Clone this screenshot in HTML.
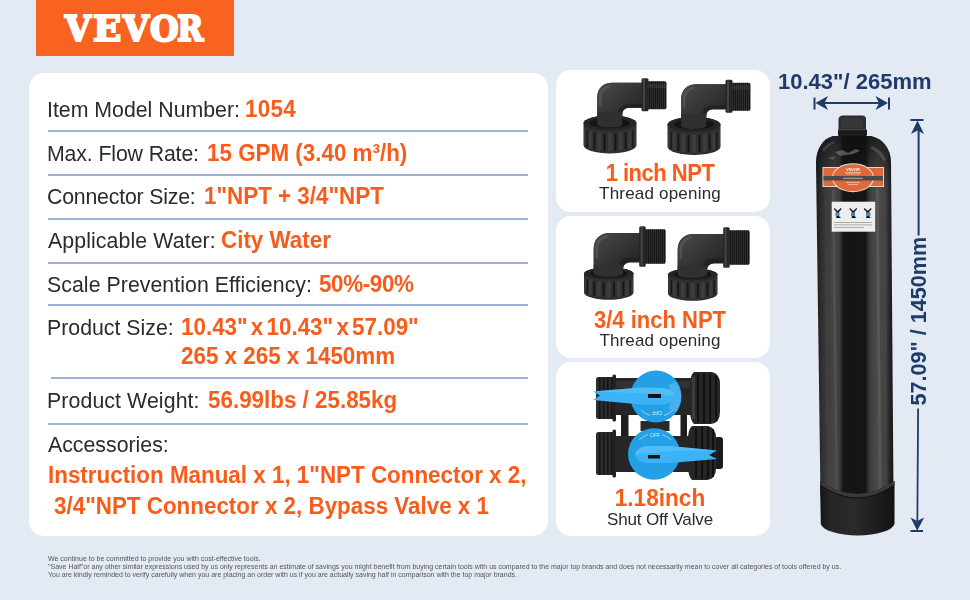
<!DOCTYPE html>
<html><head><meta charset="utf-8"><title>VEVOR Water Softener Tank</title>
<style>
*{margin:0;padding:0;box-sizing:border-box}
html,body{width:970px;height:600px;overflow:hidden}
body{background:#e3eaf3;font-family:"Liberation Sans",Arial,sans-serif;position:relative;color:#2b2b2b}
.lbl,.val,.ct,.dim,.foot{will-change:transform}
#logo{position:absolute;left:36px;top:0;width:198px;height:56px;background:#f8631f}
#logo span{position:absolute;top:10px;transform-origin:0 0;font-family:"DejaVu Serif",serif;font-weight:bold;font-size:36px;line-height:1;color:#fff;letter-spacing:-1px;-webkit-text-stroke:2.2px #fff}
.card{position:absolute;background:#fff;border-radius:15px}
.sep{position:absolute;height:2px;background:#9db2d5}
.lbl{position:absolute;white-space:nowrap;line-height:1;font-size:21.3px;color:#2b2b2b;transform:scaleY(1.04);transform-origin:0 17px}
.val{position:absolute;white-space:nowrap;line-height:1;font-size:22.4px;font-weight:bold;color:#f85c1a;transform:scaleY(1.1);transform-origin:0 18px}
.ct{position:absolute;white-space:nowrap;line-height:1;text-align:center;width:214px;left:553px}
.ct.o{font-size:22px;font-weight:bold;color:#f85c1a;transform:scaleY(1.06);transform-origin:0 18px}
.ct.d{font-size:17px;color:#2b2b2b}
.dim{position:absolute;white-space:nowrap;line-height:1;font-size:22px;font-weight:bold;color:#1f3b69}
.foot{position:absolute;left:48px;white-space:nowrap;line-height:1;font-size:7px;color:#555}
svg{position:absolute;overflow:visible}
</style></head><body>
<div id="logo"><span style="left:29px;transform:scaleX(0.93)">V</span><span style="left:57px;transform:scaleX(1.03)">E</span><span style="left:87px;transform:scaleX(0.93)">V</span><span style="left:114px;transform:scaleX(0.915)">O</span><span style="left:141px;transform:scaleX(0.88)">R</span></div>
<div class="card" style="left:29px;top:73px;width:519px;height:463px"></div>
<div class="lbl" style="left:47px;top:100px;">Item Model Number:</div>
<div class="val" style="left:245px;top:99px;letter-spacing:.3px">1054</div>
<div class="sep" style="left:48px;top:130px;width:480px"></div>
<div class="lbl" style="left:47px;top:144px;letter-spacing:-.13px">Max. Flow Rate:</div>
<div class="val" style="left:207px;top:143px;">15 GPM (3.40 m³/h)</div>
<div class="sep" style="left:48px;top:174px;width:480px"></div>
<div class="lbl" style="left:47px;top:187px;letter-spacing:-.2px">Connector Size:</div>
<div class="val" style="left:204px;top:186px;">1"NPT + 3/4"NPT</div>
<div class="sep" style="left:48px;top:218px;width:480px"></div>
<div class="lbl" style="left:48px;top:231px;letter-spacing:.1px">Applicable Water:</div>
<div class="val" style="left:221px;top:230px;">City Water</div>
<div class="sep" style="left:48px;top:262px;width:480px"></div>
<div class="lbl" style="left:47px;top:275px;letter-spacing:.05px">Scale Prevention Efficiency:</div>
<div class="val" style="left:318.5px;top:274px;letter-spacing:-.35px">50%-90%</div>
<div class="sep" style="left:48px;top:304px;width:480px"></div>
<div class="lbl" style="left:47px;top:318px;">Product Size:</div>
<div class="val" style="left:181px;top:317px;word-spacing:-3px">10.43" x 10.43" x 57.09"</div>
<div class="val" style="left:181px;top:346px;">265 x 265 x 1450mm</div>
<div class="sep" style="left:51px;top:377px;width:477px"></div>
<div class="lbl" style="left:47px;top:391px;letter-spacing:.1px">Product Weight:</div>
<div class="val" style="left:208px;top:390px;">56.99lbs / 25.85kg</div>
<div class="sep" style="left:48px;top:423px;width:480px"></div>
<div class="lbl" style="left:48px;top:435px;">Accessories:</div>
<div class="val" style="left:48px;top:465px;">Instruction Manual x 1, 1"NPT Connector x 2,</div>
<div class="val" style="left:54px;top:496px;">3/4"NPT Connector x 2, Bypass Valve x 1</div>
<div class="card" style="left:556px;top:70px;width:214px;height:142px"></div>
<div class="card" style="left:556px;top:216px;width:214px;height:142px"></div>
<div class="card" style="left:556px;top:362px;width:214px;height:174px"></div>
<div class="ct o" style="top:162.5px;letter-spacing:-.5px">1 inch NPT</div>
<div class="ct d" style="top:185px;letter-spacing:.2px">Thread opening</div>
<div class="ct o" style="top:309.5px">3/4 inch NPT</div>
<div class="ct d" style="top:332px;letter-spacing:.15px">Thread opening</div>
<div class="ct o" style="top:488px;font-size:22.6px;transform:scaleY(1.08);transform-origin:0 18px">1.18inch</div>
<div class="ct d" style="top:511px;letter-spacing:-.15px">Shut Off Valve</div>
<div class="dim" style="left:778px;top:70.5px">10.43"/ 265mm</div>
<svg width="970" height="600" viewBox="0 0 970 600" style="left:0;top:0"><defs>
<linearGradient id="tb" x1="0" x2="1" y1="0" y2="0">
<stop offset="0" stop-color="#1a1a1a"/>
<stop offset=".05" stop-color="#2a2a2a"/>
<stop offset=".13" stop-color="#3a3a3a"/>
<stop offset=".24" stop-color="#474747"/>
<stop offset=".31" stop-color="#3c3c3c"/>
<stop offset=".335" stop-color="#1e1e1e"/>
<stop offset=".36" stop-color="#161616"/>
<stop offset=".5" stop-color="#141414"/>
<stop offset=".64" stop-color="#171717"/>
<stop offset=".665" stop-color="#2a2a2a"/>
<stop offset=".70" stop-color="#3e3e3e"/>
<stop offset=".80" stop-color="#4c4c4c"/>
<stop offset=".9" stop-color="#404040"/>
<stop offset=".955" stop-color="#242424"/>
<stop offset="1" stop-color="#151515"/>
</linearGradient>
<pattern id="tex" width="6" height="3" patternUnits="userSpaceOnUse"><rect width="6" height="1" fill="#000" opacity=".25"/></pattern>
<linearGradient id="tbase" x1="0" x2="1" y1="0" y2="0">
<stop offset="0" stop-color="#151515"/>
<stop offset=".15" stop-color="#262626"/>
<stop offset=".45" stop-color="#2a2a2a"/>
<stop offset=".75" stop-color="#1e1e1e"/>
<stop offset="1" stop-color="#121212"/>
</linearGradient>
<linearGradient id="tsh" x1="0" x2="0" y1="0" y2="1">
<stop offset="0" stop-color="#0e0e0e" stop-opacity=".7"/>
<stop offset=".6" stop-color="#111" stop-opacity=".3"/>
<stop offset="1" stop-color="#111" stop-opacity="0"/>
</linearGradient>
</defs>
<g id="tank">
<!-- body -->
<path d="M833,136 C823,139 816.5,148 816,162 L820.5,497 L893.5,497 L891,162 C890.5,148 883,139 871,136 Z" fill="url(#tb)"/>
<path d="M833,136 C823,139 816.5,148 816,162 L816.3,185 L891.2,185 L891,162 C890.5,148 883,139 871,136 Z" fill="url(#tsh)"/>
<path d="M835,152 L842,150 L848,153 L856,149 L860,151 L853,154 L846,155 L840,156 Z" fill="#8a8a8a" opacity=".55"/>
<path d="M828,158 L836,156 L833,160 Z" fill="#777" opacity=".5"/>
<path d="M872,146 Q882,150 886,160 L883,161 Q879,152 870,148 Z" fill="#6a6a6a" opacity=".5"/>
<path d="M822,150 Q826,144 834,141 L835,143 Q828,146 824,152 Z" fill="#5a5a5a" opacity=".5"/>
<g opacity=".2">
<path d="M832,190 L836,490 L838,490 L834,190 Z" fill="#8a8a8a"/>
<path d="M876,190 L879,490 L881.5,490 L878.5,190 Z" fill="#909090"/>
<path d="M825,190 L828,490 L829,490 L826,190 Z" fill="#6a6a6a"/>
<path d="M884,190 L886,490 L887,490 L885,190 Z" fill="#6a6a6a"/>
</g>
<!-- neck -->
<path d="M838.5,136 L838.5,119 Q839,115.5 843,115.5 L862,115.5 Q866,115.5 866,119 L866,136 Z" fill="#2e2e2e"/>
<rect x="841" y="118" width="22" height="10" fill="#3c3c3c" opacity=".6"/>
<rect x="838" y="129" width="29" height="7" rx="1.5" fill="#1a1a1a"/>
<rect x="839" y="129" width="27" height="1.2" fill="#444"/>
<!-- label -->
<rect x="822.5" y="167" width="61.5" height="20" fill="#d9d9d9"/>
<rect x="823.5" y="168" width="59.5" height="18" fill="#e2683a"/>
<ellipse cx="853" cy="177.7" rx="21" ry="14.5" fill="#e0e0e0"/>
<ellipse cx="853" cy="177.7" rx="20" ry="13.5" fill="#e2683a"/>
<rect x="823.5" y="176" width="59.5" height="4.5" fill="#4a4a4a"/>
<text x="853" y="170.5" font-family="Liberation Sans" font-weight="bold" font-size="4" fill="#fff" text-anchor="middle">VEVOR</text>
<rect x="845" y="172" width="16" height="0.8" fill="#f4c0a8"/>
<rect x="846" y="173.5" width="14" height="0.8" fill="#f4c0a8"/>
<rect x="843" y="177.8" width="20" height="0.9" fill="#bbb"/>
<rect x="846" y="182" width="14" height="0.8" fill="#f4c0a8"/>
<rect x="848" y="184" width="10" height="0.8" fill="#f4c0a8"/>
<!-- sticker -->
<rect x="831.7" y="201.7" width="43.5" height="30" fill="#eeeeee"/>
<g fill="#151515">
<path d="M834.5,208 L837.7,211 L840.9,208 L841.6,209 L839,212 L839,216 L841,218 L836,218 L836.5,216 L836.5,212 L833.8,209 Z"/>
<path d="M850,208 L853.2,211 L856.4,208 L857.1,209 L854.5,212 L854.5,216 L856.5,218 L851.5,218 L852,216 L852,212 L849.3,209 Z"/>
<path d="M864.5,208 L867.7,211 L870.9,208 L871.6,209 L869,212 L869,216 L871,218 L866,218 L866.5,216 L866.5,212 L863.8,209 Z"/>
</g>
<g fill="#2d8fe0"><rect x="835.5" y="212.5" width="4" height="3.5"/><rect x="851" y="212.5" width="4" height="3.5"/><rect x="866.5" y="212.5" width="4" height="3.5"/></g>
<g fill="#9a9a9a"><rect x="834" y="222" width="38" height="0.8"/><rect x="834" y="224.5" width="38" height="0.8"/><rect x="834" y="227" width="30" height="0.8"/></g>
<!-- base -->
<path d="M820,481 Q857,507 894.5,481 L894.5,524 A37,12.5 0 0 1 820.8,524 Z" fill="url(#tbase)"/>
<path d="M820,481 Q857,507 894.5,481 L894.5,485 Q857,511 820,485 Z" fill="#3a3a3a"/>
<path d="M820.2,485 Q857,511 894.3,485" stroke="#0e0e0e" stroke-width="1" fill="none"/>
</g>
<!-- dimension arrows -->
<g fill="#1f3b69" stroke="none">
<rect x="813.5" y="97.5" width="2" height="12"/>
<rect x="888" y="97.5" width="2" height="12"/>
<rect x="820" y="102" width="62" height="2"/>
<path d="M815.5,103 L828,96 L824.5,103 L828,110 Z"/>
<path d="M888,103 L875.5,96 L879,103 L875.5,110 Z"/>
<rect x="910.5" y="119" width="13" height="2"/>
<path d="M917.5,120.5 L911,134 L917.5,130.5 L924,134 Z"/>
<path d="M917.6,128 L919.6,128 L919.6,235.5 L917.6,235.5 Z"/>
<path d="M917.2,408.5 L919,408.5 L918.2,522 L916.5,522 Z"/>
<path d="M917.2,530.8 L910.5,517.5 L917.2,521 L924.2,517.5 Z"/>
<rect x="910.5" y="530" width="12.5" height="2"/>
</g>
<text transform="translate(926,405.5) rotate(-90)" font-family="Liberation Sans" font-weight="bold" font-size="21.6" fill="#1f3b69">57.09" / 1450mm</text>
<defs><linearGradient id="gh" x1="0" x2="0" y1="0" y2="1"><stop offset="0" stop-color="#2e2e2e"/><stop offset=".22" stop-color="#4a4a4a"/><stop offset=".5" stop-color="#3a3a3a"/><stop offset=".85" stop-color="#262626"/><stop offset="1" stop-color="#1a1a1a"/></linearGradient><linearGradient id="gd" x1="0" x2="1" y1="0" y2="1"><stop offset="0" stop-color="#4a4a4a"/><stop offset=".45" stop-color="#363636"/><stop offset="1" stop-color="#1e1e1e"/></linearGradient><linearGradient id="gv" x1="0" x2="1" y1="0" y2="0"><stop offset="0" stop-color="#2e2e2e"/><stop offset=".25" stop-color="#4c4c4c"/><stop offset=".55" stop-color="#383838"/><stop offset="1" stop-color="#1e1e1e"/></linearGradient></defs>
<g transform="translate(0,0) scale(1.0)"><rect x="647" y="81.2" width="19.5" height="28.1" rx="2" fill="#2e2e2e"/><rect x="649.0" y="81.5" width="0.9" height="27.5" fill="#161616"/><rect x="651.0" y="81.5" width="0.9" height="27.5" fill="#161616"/><rect x="653.0" y="81.5" width="0.9" height="27.5" fill="#161616"/><rect x="655.0" y="81.5" width="0.9" height="27.5" fill="#161616"/><rect x="657.0" y="81.5" width="0.9" height="27.5" fill="#161616"/><rect x="659.0" y="81.5" width="0.9" height="27.5" fill="#161616"/><rect x="661.0" y="81.5" width="0.9" height="27.5" fill="#161616"/><rect x="663.0" y="81.5" width="0.9" height="27.5" fill="#161616"/><rect x="665.0" y="81.5" width="0.9" height="27.5" fill="#161616"/><rect x="647" y="84" width="19.5" height="4" fill="#4a4a4a" opacity=".35"/><path d="M597.2,124 L597.2,98 C597.2,88.5 603,82.8 612.5,82.8 L643,82.8 L643,107.8 L629,107.8 C625,108 622.2,110.5 622.2,115 L622.2,124 Z" fill="#363636"/><path d="M597.2,124 L597.2,98 C597.2,88.5 603,82.8 612.5,82.8 L643,82.8 L643,107.8 L629,107.8 C625,108 622.2,110.5 622.2,115 L622.2,124 Z" fill="url(#gd)"/><path d="M599,106 L599,98 C599,91 603,86 610,85 L611,87 C605,88.5 601.5,92 601.5,99 L601.5,106 Z" fill="#5a5a5a" opacity=".7"/><path d="M618,124 L618,112 Q619,105 628,104 L643,104 L643,107.8 L626,107.8 Q622.2,108.5 622.2,113 L622.2,124 Z" fill="#1a1a1a" opacity=".6"/><rect x="641.5" y="78.2" width="7" height="33" rx="1.5" fill="#262626"/><rect x="643" y="79" width="2" height="31" fill="#444"/><path d="M583.5,123 L583.5,145 A26.5,8.5 0 0 0 636.5,145 L636.5,123 A26.5,7.5 0 0 0 583.5,123 Z" fill="#2f2f2f"/><rect x="584.1" y="128.1" width="1.4" height="17.5" rx="0.7" fill="#3d3d3d"/><rect x="588.8" y="130.5" width="3.0" height="18.2" rx="1.5" fill="#3d3d3d"/><rect x="597.2" y="132.2" width="4.1" height="18.6" rx="2.1" fill="#3d3d3d"/><rect x="607.8" y="132.8" width="4.5" height="18.8" rx="2.2" fill="#3d3d3d"/><rect x="618.7" y="132.2" width="4.1" height="18.6" rx="2.1" fill="#3d3d3d"/><rect x="628.2" y="130.5" width="3.0" height="18.2" rx="1.5" fill="#3d3d3d"/><rect x="634.5" y="128.1" width="1.4" height="17.5" rx="0.7" fill="#3d3d3d"/><rect x="586.5" y="130.4" width="1.1" height="17.0" fill="#141414"/><rect x="593.7" y="132.5" width="1.5" height="17.0" fill="#141414"/><rect x="603.6" y="133.6" width="1.8" height="17.0" fill="#141414"/><rect x="614.6" y="133.6" width="1.8" height="17.0" fill="#141414"/><rect x="624.8" y="132.5" width="1.5" height="17.0" fill="#141414"/><rect x="632.4" y="130.4" width="1.1" height="17.0" fill="#141414"/><ellipse cx="610" cy="123" rx="26.5" ry="7.5" fill="#252525"/><ellipse cx="610" cy="123" rx="20" ry="5" fill="#141414"/><path d="M597.2,112 L597.2,124 A12.5,3.5 0 0 0 622.2,124 L622.2,112 Z" fill="#303030"/></g>
<g transform="translate(84,1.5) scale(1.0)"><rect x="647" y="81.2" width="19.5" height="28.1" rx="2" fill="#2e2e2e"/><rect x="649.0" y="81.5" width="0.9" height="27.5" fill="#161616"/><rect x="651.0" y="81.5" width="0.9" height="27.5" fill="#161616"/><rect x="653.0" y="81.5" width="0.9" height="27.5" fill="#161616"/><rect x="655.0" y="81.5" width="0.9" height="27.5" fill="#161616"/><rect x="657.0" y="81.5" width="0.9" height="27.5" fill="#161616"/><rect x="659.0" y="81.5" width="0.9" height="27.5" fill="#161616"/><rect x="661.0" y="81.5" width="0.9" height="27.5" fill="#161616"/><rect x="663.0" y="81.5" width="0.9" height="27.5" fill="#161616"/><rect x="665.0" y="81.5" width="0.9" height="27.5" fill="#161616"/><rect x="647" y="84" width="19.5" height="4" fill="#4a4a4a" opacity=".35"/><path d="M597.2,124 L597.2,98 C597.2,88.5 603,82.8 612.5,82.8 L643,82.8 L643,107.8 L629,107.8 C625,108 622.2,110.5 622.2,115 L622.2,124 Z" fill="#363636"/><path d="M597.2,124 L597.2,98 C597.2,88.5 603,82.8 612.5,82.8 L643,82.8 L643,107.8 L629,107.8 C625,108 622.2,110.5 622.2,115 L622.2,124 Z" fill="url(#gd)"/><path d="M599,106 L599,98 C599,91 603,86 610,85 L611,87 C605,88.5 601.5,92 601.5,99 L601.5,106 Z" fill="#5a5a5a" opacity=".7"/><path d="M618,124 L618,112 Q619,105 628,104 L643,104 L643,107.8 L626,107.8 Q622.2,108.5 622.2,113 L622.2,124 Z" fill="#1a1a1a" opacity=".6"/><rect x="641.5" y="78.2" width="7" height="33" rx="1.5" fill="#262626"/><rect x="643" y="79" width="2" height="31" fill="#444"/><path d="M583.5,123 L583.5,145 A26.5,8.5 0 0 0 636.5,145 L636.5,123 A26.5,7.5 0 0 0 583.5,123 Z" fill="#2f2f2f"/><rect x="584.1" y="128.1" width="1.4" height="17.5" rx="0.7" fill="#3d3d3d"/><rect x="588.8" y="130.5" width="3.0" height="18.2" rx="1.5" fill="#3d3d3d"/><rect x="597.2" y="132.2" width="4.1" height="18.6" rx="2.1" fill="#3d3d3d"/><rect x="607.8" y="132.8" width="4.5" height="18.8" rx="2.2" fill="#3d3d3d"/><rect x="618.7" y="132.2" width="4.1" height="18.6" rx="2.1" fill="#3d3d3d"/><rect x="628.2" y="130.5" width="3.0" height="18.2" rx="1.5" fill="#3d3d3d"/><rect x="634.5" y="128.1" width="1.4" height="17.5" rx="0.7" fill="#3d3d3d"/><rect x="586.5" y="130.4" width="1.1" height="17.0" fill="#141414"/><rect x="593.7" y="132.5" width="1.5" height="17.0" fill="#141414"/><rect x="603.6" y="133.6" width="1.8" height="17.0" fill="#141414"/><rect x="614.6" y="133.6" width="1.8" height="17.0" fill="#141414"/><rect x="624.8" y="132.5" width="1.5" height="17.0" fill="#141414"/><rect x="632.4" y="130.4" width="1.1" height="17.0" fill="#141414"/><ellipse cx="610" cy="123" rx="26.5" ry="7.5" fill="#252525"/><ellipse cx="610" cy="123" rx="20" ry="5" fill="#141414"/><path d="M597.2,112 L597.2,124 A12.5,3.5 0 0 0 622.2,124 L622.2,112 Z" fill="#303030"/></g>
<g transform="translate(0,0)"><rect x="644.5" y="229.2" width="21.2" height="34.5" rx="2" fill="#2e2e2e"/><rect x="646.0" y="229.5" width="1" height="34" fill="#161616"/><rect x="648.0" y="229.5" width="1" height="34" fill="#161616"/><rect x="650.0" y="229.5" width="1" height="34" fill="#161616"/><rect x="652.0" y="229.5" width="1" height="34" fill="#161616"/><rect x="654.0" y="229.5" width="1" height="34" fill="#161616"/><rect x="656.0" y="229.5" width="1" height="34" fill="#161616"/><rect x="658.0" y="229.5" width="1" height="34" fill="#161616"/><rect x="660.0" y="229.5" width="1" height="34" fill="#161616"/><rect x="662.0" y="229.5" width="1" height="34" fill="#161616"/><rect x="664.0" y="229.5" width="1" height="34" fill="#161616"/><path d="M593.7,274 L593.7,249 C593.7,239 600,233 610,233 L640,233 L640,262.2 L630,262.2 C626,262.5 623,265 623,269.5 L623,274 Z" fill="#363636"/><path d="M593.7,274 L593.7,249 C593.7,239 600,233 610,233 L640,233 L640,262.2 L630,262.2 C626,262.5 623,265 623,269.5 L623,274 Z" fill="url(#gd)"/><path d="M595.5,258 L595.5,249 C595.5,242 600,236.5 607,235.3 L608,237 C602,238.5 598,243 598,250 L598,258 Z" fill="#5a5a5a" opacity=".7"/><path d="M618.5,274 L618.5,266 Q619.5,258 628,257.5 L640,257.5 L640,262.2 L627,262.2 Q623,263 623,268 L623,274 Z" fill="#1a1a1a" opacity=".6"/><rect x="639.2" y="226.2" width="6.5" height="40.5" rx="1.5" fill="#262626"/><rect x="640.6" y="227" width="2" height="39" fill="#444"/><path d="M584,273.5 L584,292.5 A24.75,7.2 0 0 0 633.5,292.5 L633.5,273.5 A24.75,6 0 0 0 584,273.5 Z" fill="#2f2f2f"/><rect x="584.6" y="277.7" width="1.3" height="15.1" rx="0.6" fill="#3d3d3d"/><rect x="589.0" y="279.6" width="2.8" height="15.7" rx="1.4" fill="#3d3d3d"/><rect x="596.8" y="280.9" width="3.8" height="16.1" rx="1.9" fill="#3d3d3d"/><rect x="606.6" y="281.4" width="4.2" height="16.3" rx="2.1" fill="#3d3d3d"/><rect x="616.9" y="280.9" width="3.8" height="16.1" rx="1.9" fill="#3d3d3d"/><rect x="625.7" y="279.6" width="2.8" height="15.7" rx="1.4" fill="#3d3d3d"/><rect x="631.6" y="277.7" width="1.3" height="15.1" rx="0.6" fill="#3d3d3d"/><rect x="586.8" y="279.7" width="1.1" height="14" fill="#141414"/><rect x="593.5" y="281.4" width="1.5" height="14" fill="#141414"/><rect x="602.8" y="282.3" width="1.7" height="14" fill="#141414"/><rect x="613.1" y="282.3" width="1.7" height="14" fill="#141414"/><rect x="622.6" y="281.4" width="1.5" height="14" fill="#141414"/><rect x="629.7" y="279.7" width="1.1" height="14" fill="#141414"/><ellipse cx="608.75" cy="273.5" rx="24.75" ry="6" fill="#252525"/><ellipse cx="608.75" cy="273.5" rx="18.5" ry="4.2" fill="#141414"/><path d="M593.7,265 L593.7,273.5 A14.65,3.5 0 0 0 623,273.5 L623,265 Z" fill="#303030"/></g>
<g transform="translate(84,1)"><rect x="644.5" y="229.2" width="21.2" height="34.5" rx="2" fill="#2e2e2e"/><rect x="646.0" y="229.5" width="1" height="34" fill="#161616"/><rect x="648.0" y="229.5" width="1" height="34" fill="#161616"/><rect x="650.0" y="229.5" width="1" height="34" fill="#161616"/><rect x="652.0" y="229.5" width="1" height="34" fill="#161616"/><rect x="654.0" y="229.5" width="1" height="34" fill="#161616"/><rect x="656.0" y="229.5" width="1" height="34" fill="#161616"/><rect x="658.0" y="229.5" width="1" height="34" fill="#161616"/><rect x="660.0" y="229.5" width="1" height="34" fill="#161616"/><rect x="662.0" y="229.5" width="1" height="34" fill="#161616"/><rect x="664.0" y="229.5" width="1" height="34" fill="#161616"/><path d="M593.7,274 L593.7,249 C593.7,239 600,233 610,233 L640,233 L640,262.2 L630,262.2 C626,262.5 623,265 623,269.5 L623,274 Z" fill="#363636"/><path d="M593.7,274 L593.7,249 C593.7,239 600,233 610,233 L640,233 L640,262.2 L630,262.2 C626,262.5 623,265 623,269.5 L623,274 Z" fill="url(#gd)"/><path d="M595.5,258 L595.5,249 C595.5,242 600,236.5 607,235.3 L608,237 C602,238.5 598,243 598,250 L598,258 Z" fill="#5a5a5a" opacity=".7"/><path d="M618.5,274 L618.5,266 Q619.5,258 628,257.5 L640,257.5 L640,262.2 L627,262.2 Q623,263 623,268 L623,274 Z" fill="#1a1a1a" opacity=".6"/><rect x="639.2" y="226.2" width="6.5" height="40.5" rx="1.5" fill="#262626"/><rect x="640.6" y="227" width="2" height="39" fill="#444"/><path d="M584,273.5 L584,292.5 A24.75,7.2 0 0 0 633.5,292.5 L633.5,273.5 A24.75,6 0 0 0 584,273.5 Z" fill="#2f2f2f"/><rect x="584.6" y="277.7" width="1.3" height="15.1" rx="0.6" fill="#3d3d3d"/><rect x="589.0" y="279.6" width="2.8" height="15.7" rx="1.4" fill="#3d3d3d"/><rect x="596.8" y="280.9" width="3.8" height="16.1" rx="1.9" fill="#3d3d3d"/><rect x="606.6" y="281.4" width="4.2" height="16.3" rx="2.1" fill="#3d3d3d"/><rect x="616.9" y="280.9" width="3.8" height="16.1" rx="1.9" fill="#3d3d3d"/><rect x="625.7" y="279.6" width="2.8" height="15.7" rx="1.4" fill="#3d3d3d"/><rect x="631.6" y="277.7" width="1.3" height="15.1" rx="0.6" fill="#3d3d3d"/><rect x="586.8" y="279.7" width="1.1" height="14" fill="#141414"/><rect x="593.5" y="281.4" width="1.5" height="14" fill="#141414"/><rect x="602.8" y="282.3" width="1.7" height="14" fill="#141414"/><rect x="613.1" y="282.3" width="1.7" height="14" fill="#141414"/><rect x="622.6" y="281.4" width="1.5" height="14" fill="#141414"/><rect x="629.7" y="279.7" width="1.1" height="14" fill="#141414"/><ellipse cx="608.75" cy="273.5" rx="24.75" ry="6" fill="#252525"/><ellipse cx="608.75" cy="273.5" rx="18.5" ry="4.2" fill="#141414"/><path d="M593.7,265 L593.7,273.5 A14.65,3.5 0 0 0 623,273.5 L623,265 Z" fill="#303030"/></g><g id="valve">
<!-- struts and bracket -->
<rect x="621" y="410" width="7.5" height="28" rx="1.5" fill="#1e1e1e"/>
<rect x="680.5" y="410" width="6.5" height="27" rx="1.5" fill="#1e1e1e"/>
<rect x="640.5" y="421" width="29" height="10" fill="#2a2a2a"/>
<!-- upper valve body -->
<rect x="614" y="378" width="84" height="37" fill="#262626"/>
<rect x="614" y="381" width="84" height="7" fill="#383838" opacity=".7"/>
<rect x="596" y="377" width="18" height="42" rx="2.5" fill="#2c2c2c"/>
<rect x="599" y="377.5" width="1.5" height="41" fill="#141414"/><rect x="603" y="377.5" width="1.5" height="41" fill="#141414"/><rect x="607" y="377.5" width="1.5" height="41" fill="#141414"/><rect x="611" y="377" width="1.5" height="42" fill="#141414"/>
<rect x="612.5" y="374.5" width="3.5" height="47" rx="1.5" fill="#222"/>
<path d="M694,372 L712,372 Q720,374 720,384 L720,412 Q720,423 711,424 L694,424 Q690,420 690,410 L690,386 Q690,375 694,372 Z" fill="#262626"/>
<rect x="697" y="374" width="2" height="48" fill="#111"/><rect x="703" y="373" width="2" height="50" fill="#111"/><rect x="709" y="373" width="2" height="50" fill="#111"/><rect x="715" y="375" width="2" height="46" fill="#111"/>
<rect x="692" y="377" width="3" height="42" fill="#3c3c3c"/>
<!-- lower valve body -->
<rect x="614" y="436" width="80" height="36" fill="#262626"/>
<rect x="596" y="432" width="18" height="43" rx="2.5" fill="#2c2c2c"/>
<rect x="599" y="432.5" width="1.5" height="42" fill="#141414"/><rect x="603" y="432.5" width="1.5" height="42" fill="#141414"/><rect x="607" y="432.5" width="1.5" height="42" fill="#141414"/><rect x="611" y="432" width="1.5" height="43" fill="#141414"/>
<rect x="612.5" y="429.5" width="3.5" height="48" rx="1.5" fill="#222"/>
<rect x="714" y="437" width="9" height="32" rx="3" fill="#1b1b1b"/>
<path d="M692,426 L708,426 Q716,428 716,438 L716,468 Q716,479 707,480 L692,480 Q688,476 688,466 L688,440 Q688,429 692,426 Z" fill="#262626"/>
<rect x="695" y="428" width="2" height="50" fill="#111"/><rect x="701" y="427" width="2" height="52" fill="#111"/><rect x="707" y="427" width="2" height="52" fill="#111"/><rect x="712" y="429" width="2" height="48" fill="#111"/>
<!-- upper knob -->
<ellipse cx="656" cy="396.5" rx="25.5" ry="26" fill="#24a0e6"/>
<path d="M676,382 Q686,396 676,412 L668,409 Q675,396 668,385 Z" fill="#5bbcf2" opacity=".6"/>
<!-- upper handle -->
<path d="M593,391.5 L640,387.5 L664,388 Q674,390 675,396 Q674,403 664,404.5 L640,404.5 L593,400 L600,395.5 Z" fill="#3db3f7"/>
<path d="M593,391.5 L640,387.5 L664,388 Q674,390 675,396 L640,393 Z" fill="#62c4f8" opacity=".55"/>
<rect x="648" y="394" width="13" height="4" fill="#111"/>
<!-- lower knob -->
<ellipse cx="654" cy="454" rx="26" ry="25.8" fill="#24a0e6"/>
<!-- lower handle -->
<path d="M717,450.5 L670,446 L646,446 Q636,448 635,454.5 Q636,461 646,463 L670,463 L717,459 L709,455 Z" fill="#3db3f7"/>
<path d="M717,450.5 L670,446 L646,446 Q636,448 635,454.5 L672,451 Z" fill="#62c4f8" opacity=".55"/>
<rect x="648" y="455" width="12" height="3.5" fill="#111"/>
<text x="655" y="437" font-family="Liberation Sans" font-size="5" fill="#d8eefa" text-anchor="middle">OFF</text>
<path d="M639,440 Q643,436 648,434.5 M662,434.5 Q667,436 671,440" stroke="#d8eefa" stroke-width=".6" fill="none"/>
<text x="657" y="414" font-family="Liberation Sans" font-size="5" fill="#d8eefa" text-anchor="middle" transform="rotate(180 657 412.5)">OFF</text>
<path d="M641,410 Q645,414 650,415.5 M664,415.5 Q669,414 673,410" stroke="#d8eefa" stroke-width=".6" fill="none"/>
</g>
</svg>
<div class="foot" style="top:555px">We continue to be committed to provide you with cost-effective tools.</div>
<div class="foot" style="top:563px">"Save Half"or any other similar expressions used by us only represents an estimate of savings you might benefit from buying certain tools with us compared to the major top brands and does not necessarily mean to cover all categories of tools offered by us.</div>
<div class="foot" style="top:571px">You are kindly reminded to verify carefully when you are placing an order with us if you are actually saving half in comparison with the top major brands.</div>
</body></html>
